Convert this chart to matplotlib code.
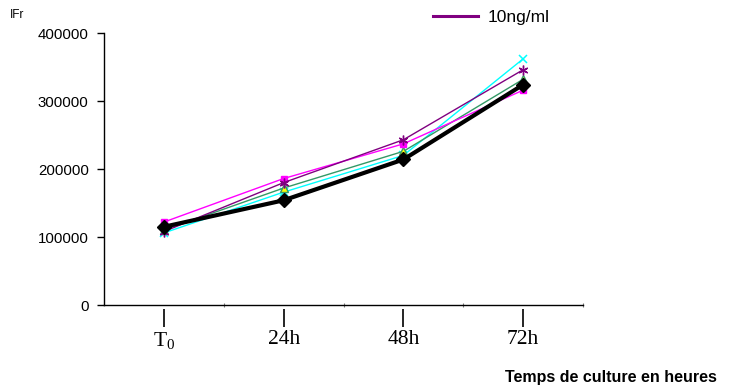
import matplotlib
matplotlib.use("Agg")
import matplotlib.pyplot as plt
from matplotlib.lines import Line2D

plt.rcParams['font.family'] = ['Liberation Sans', 'DejaVu Sans']
plt.rcParams['mathtext.fontset'] = 'custom'
plt.rcParams['mathtext.rm'] = 'Liberation Serif'

# categories (culture time)
times = [r'T$_{\mathrm{0}}$', '24h', '48h', '72h']
x = list(range(len(times)))

# IFr values
control = [115000, 154000, 214000, 324000]    # thick black, diamonds
serie_mag = [122000, 186000, 237000, 316000]  # magenta squares
serie_10ng = [108000, 180000, 243000, 346000] # purple stars
serie_grn = [110000, 172000, 226000, 332000]  # green line, yellow triangles
serie_cyan = [106000, 166000, 220000, 362000] # cyan crosses

fig = plt.figure(figsize=(7.37, 3.91), dpi=100)
ax = fig.add_axes([0.1411, 0.2199, 0.650, 0.6957])

ax.plot(x, serie_cyan, color='#00FFFF', lw=1, marker='x', ms=6, mew=1.1)
ax.plot(x, serie_grn, color='#339966', lw=1, marker='^', ms=6,
        mfc='#FFFF00', mec='#339966')
ax.plot(x, serie_mag, color='#FF00FF', lw=1, marker='s', ms=5)
ax.plot(x, serie_10ng, color='#800080', lw=1, marker=(6, 2, 0), ms=7, mew=1)
ax.plot(x, control, color='black', lw=3, marker='D', ms=7)

ax.set_xlim(-0.5, 3.5)
ax.set_ylim(0, 400000)
ax.set_yticks([0, 100000, 200000, 300000, 400000])
ax.tick_params(axis='y', direction='out', length=5, width=1, pad=6, labelsize=10.8)

ax.spines['top'].set_visible(False)
ax.spines['right'].set_visible(False)
for s in ['left', 'bottom']:
    ax.spines[s].set_linewidth(1)

# boundary ticks on the axis line itself
ax.set_xticks([])
ax.set_xticks([0.5, 1.5, 2.5, 3.5], minor=True)
ax.tick_params(axis='x', which='minor', direction='inout', length=3, width=0.8, color='#777777')

# category ticks sit a little below the axis line
sec = ax.secondary_xaxis(-0.015)
sec.spines['bottom'].set_visible(False)
sec.set_xticks(x)
sec.set_xticklabels(times, fontfamily='Liberation Serif', fontsize=15.5)
sec.tick_params(axis='x', direction='out', length=13, width=1.2, pad=2)

fig.text(0.014, 0.962, 'IFr', fontsize=8.5, ha='left', va='center')
fig.text(0.973, 0.035, 'Temps de culture en heures', fontsize=11.5,
         fontweight='bold', ha='right', va='center')

h = Line2D([0], [0], color='#800080', lw=2.2)
fig.legend(handles=[h], labels=['10ng/ml'], loc='center left',
           bbox_to_anchor=(0.578, 0.955), frameon=False, fontsize=12.5,
           handlelength=2.6, handletextpad=0.55, borderaxespad=0)

fig.savefig('out.png', dpi=100)
